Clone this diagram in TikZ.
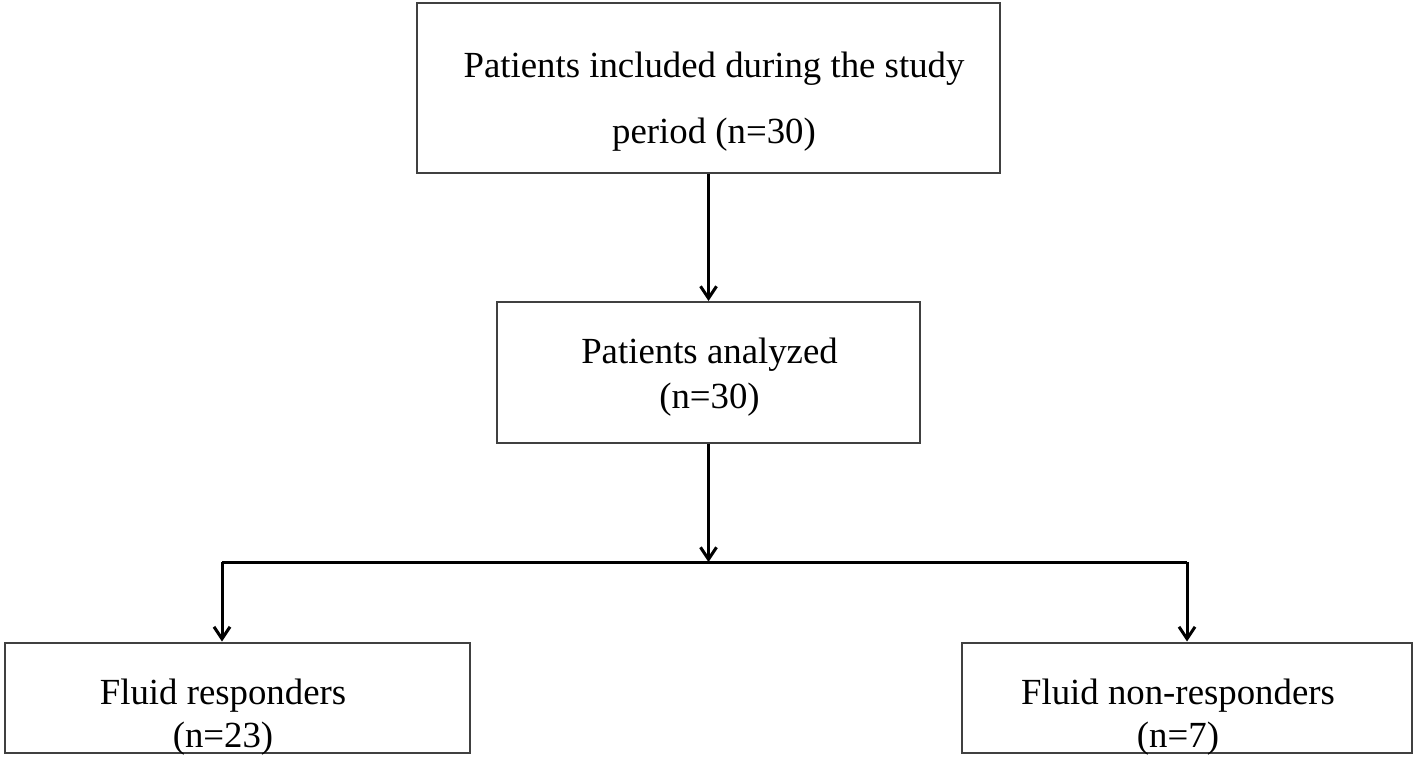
\documentclass[tikz,border=0pt]{standalone}
\usepackage{fontspec}
\setmainfont{Liberation Serif}
\usetikzlibrary{arrows.meta}

\tikzset{
  box/.style={draw=black!75, line width=1pt, rectangle, inner sep=0pt},
  txt/.style={align=center, inner sep=0pt, font=\fontsize{18.4}{22.5}\selectfont},
  link/.style={line width=1.5pt},
  arr/.style={link, -{Straight Barb[length=6pt,width=8pt]}},
}

\begin{document}
\begin{tikzpicture}[x=0.5pt, y=-0.5pt]
			%%%%% START %%%%%
			\useasboundingbox (0, 0) rectangle (1418, 757);
			
			% boxes
			\node[box, minimum width=291.5pt, minimum height=85pt] (incl) at (708.5, 88) {};
			\node[box, minimum width=211.5pt, minimum height=70.5pt] (anal) at (708.5, 372.5) {};
			\node[box, minimum width=232.5pt, minimum height=55pt] (resp) at (237.5, 697.5) {};
			\node[box, minimum width=225pt, minimum height=55pt] (nonresp) at (1187, 697.5) {};
			
			% texts
			\node[txt, font=\fontsize{18.4}{33}\selectfont] (inclText) at (714, 101.5) {Patients included during the study\\period (n=30)};
			\node[txt] (analText) at (709.5, 377) {Patients analyzed\\(n=30)};
			\node[txt, font=\fontsize{18.4}{21.5}\selectfont] (respText) at (223, 717) {Fluid responders\\(n=23)};
			\node[txt, font=\fontsize{18.4}{21.5}\selectfont] (nonrespText) at (1178, 717) {Fluid non-responders\\(n=7)};
			
			% connectors
			\coordinate (split) at (708.5, 562);
			\coordinate (splitL) at (222, 562);
			\coordinate (splitR) at (1187, 562);
			
			\draw[arr] (incl) -- (anal);
			\draw[arr] (anal) -- (split);
			\draw[link] (splitL) -- (splitR);
			\draw[arr] (splitL) -- (splitL |- resp.north);
			\draw[arr] (splitR) -- (nonresp);
			
			%%%%% END %%%%%
		\end{tikzpicture}
\end{document}
